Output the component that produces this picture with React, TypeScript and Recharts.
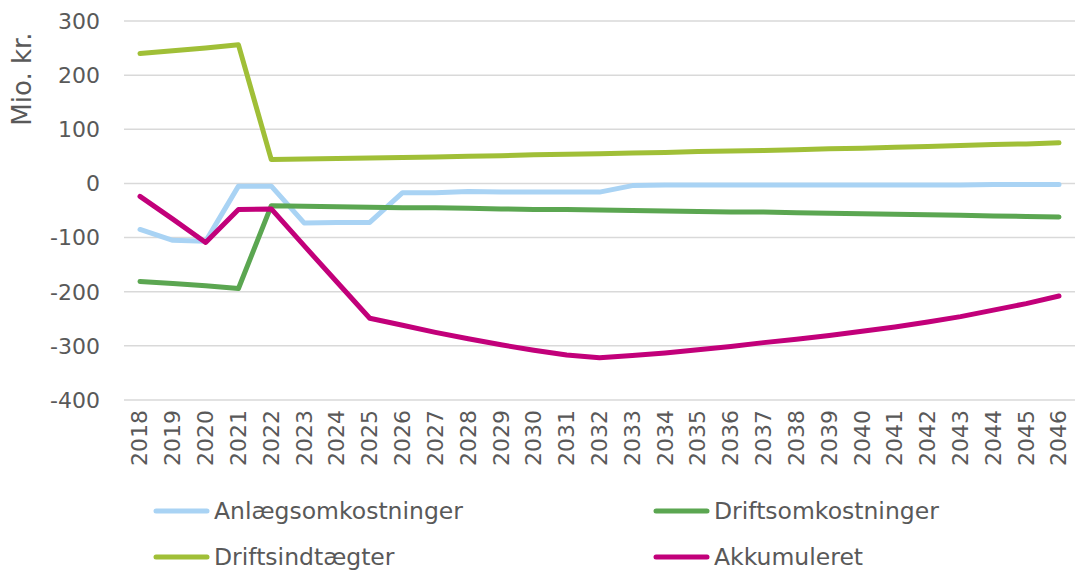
import React from 'react';
import { LineChart, Line, XAxis, YAxis, CartesianGrid, Legend } from 'recharts';

// values in Mio. kr.
const years = [
    '2018', '2019', '2020', '2021', '2022', '2023', '2024', '2025', '2026', '2027',
    '2028', '2029', '2030', '2031', '2032', '2033', '2034', '2035', '2036', '2037',
    '2038', '2039', '2040', '2041', '2042', '2043', '2044', '2045', '2046',
];
const anlaeg = [
    -85, -105, -107, -5, -5, -73, -72, -72, -17, -17,
    -15, -16, -16, -16, -16, -4, -3, -3, -3, -3,
    -3, -3, -3, -3, -3, -3, -2, -2, -2,
];
const driftsomk = [
    -181, -185, -189, -194, -41, -42, -43, -44, -45, -45,
    -46, -47, -48, -48, -49, -50, -51, -52, -53, -53,
    -54, -55, -56, -57, -58, -59, -60, -61, -62,
];
const driftsindt = [
    240, 245, 250, 256, 44, 45, 46, 47, 48, 49,
    50, 51, 53, 54, 55, 56, 57, 59, 60, 61,
    62, 64, 65, 67, 68, 70, 72, 73, 75,
];
const akkumuleret = [
    -24, -66, -109, -48, -47, -115, -182, -249, -262, -275,
    -287, -298, -308, -317, -322, -318, -313, -307, -301, -294,
    -288, -281, -273, -265, -256, -246, -234, -222, -208,
];
const yTicks = [-400, -300, -200, -100, 0, 100, 200, 300];

const series = [
    { key: 'anlaeg', name: 'Anlægsomkostninger', color: '#A9D3F4' },
    { key: 'driftsomk', name: 'Driftsomkostninger', color: '#5BA651' },
    { key: 'driftsindt', name: 'Driftsindtægter', color: '#A0BF37' },
    { key: 'akkumuleret', name: 'Akkumuleret', color: '#C2007A' },
];

const data = years.map((year, i) => ({
    year,
    anlaeg: anlaeg[i],
    driftsomk: driftsomk[i],
    driftsindt: driftsindt[i],
    akkumuleret: akkumuleret[i],
}));

const FONT = '"DejaVu Sans", Verdana, sans-serif';
const TEXT = '#595959';

const YearTick = (props: any) => {
    const { x, y, payload } = props;
    return (
        <text
            transform={`translate(${x},${y}) rotate(-90)`}
            textAnchor="end"
            dy="0.34em"
            fill={TEXT}
            fontSize={22}
            fontFamily={FONT}
        >
            {payload.value}
        </text>
    );
};

const LegendBox = () => (
    <div style={{ position: 'relative', width: 1075, height: 90, fontFamily: FONT, color: TEXT, fontSize: 23.5 }}>
        {series.map((s, i) => {
            const left = i % 2 === 0 ? 153 : 653;
            const top = i < 2 ? 31 : 77;
            return (
                <div key={s.key} style={{ position: 'absolute', left, top: top - 15, height: 30, display: 'flex', alignItems: 'center', whiteSpace: 'nowrap' }}>
                    <svg width={57} height={10} style={{ marginRight: 4 }}>
                        <line x1={3} y1={5} x2={54} y2={5} stroke={s.color} strokeWidth={5} strokeLinecap="round" />
                    </svg>
                    <span style={{ lineHeight: '30px' }}>{s.name}</span>
                </div>
            );
        })}
    </div>
);

const App = () => {
    return (
        <div style={{ width: 1075, height: 570, background: '#fff' }}>
            <style>{'body { margin: 0; }'}</style>
            <LineChart width={1075} height={570} data={data} margin={{ top: 21, right: 0, left: 0, bottom: 0 }}>
                <CartesianGrid vertical={false} stroke="#d9d9d9" strokeWidth={1.5} />
                <XAxis
                    dataKey="year"
                    interval={0}
                    height={80}
                    axisLine={false}
                    tickLine={false}
                    tickSize={0}
                    tickMargin={10}
                    padding={{ left: 16, right: 16 }}
                    tick={<YearTick />}
                />
                <YAxis
                    width={124}
                    domain={[-400, 300]}
                    ticks={yTicks}
                    interval={0}
                    axisLine={false}
                    tickLine={false}
                    tickSize={0}
                    tickMargin={24}
                    tick={{ fill: TEXT, fontSize: 22, fontFamily: FONT }}
                    label={{
                        content: ({ viewBox }: any) => (
                            <text
                                transform={`translate(${viewBox.x + 31},${viewBox.y + 58}) rotate(-90)`}
                                textAnchor="middle"
                                fill={TEXT}
                                fontSize={26}
                                fontFamily={FONT}
                            >
                                Mio. kr.
                            </text>
                        ),
                    }}
                />
                <Legend verticalAlign="bottom" height={90} content={() => <LegendBox />} />
                {series.map((s) => (
                    <Line
                        key={s.key}
                        type="linear"
                        dataKey={s.key}
                        name={s.name}
                        stroke={s.color}
                        strokeWidth={5}
                        strokeLinecap="round"
                        strokeLinejoin="round"
                        dot={false}
                        activeDot={false}
                        isAnimationActive={false}
                    />
                ))}
            </LineChart>
        </div>
    );
};

export default App;
